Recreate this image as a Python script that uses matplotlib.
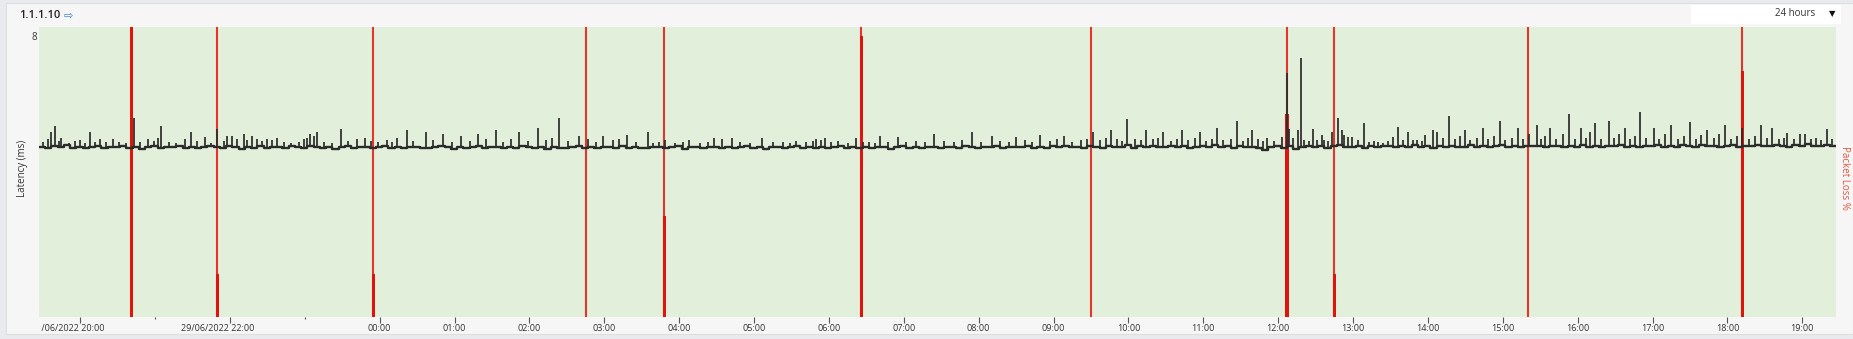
import numpy as np
import pandas as pd
import matplotlib
matplotlib.use("Agg")
import matplotlib.pyplot as plt
import matplotlib.dates as mdates
from matplotlib.transforms import ScaledTranslation, Bbox, TransformedBbox
from matplotlib.patches import Rectangle

plt.rcParams['font.family'] = ['Open Sans', 'DejaVu Sans']

# ---------------- data ----------------
host_name = "1.1.1.10"
range_label = "24 hours"
start_time = "2022-06-29 19:27"
end_time = "2022-06-30 19:27"
step_minutes = 5

# latency baseline (ms), one value per 5 minutes from start_time
latency_baseline = [
    4.70,4.66,4.72,4.68,4.74,4.67,4.70,4.65,4.69,4.72,4.66,4.70,
    4.68,4.73,4.67,4.70,4.64,4.69,4.71,4.66,4.70,4.68,4.72,4.67,
    4.69,4.65,4.70,4.73,4.68,4.66,4.71,4.69,4.64,4.70,4.67,4.72,
    4.66,4.70,4.68,4.65,4.71,4.69,4.67,4.72,4.68,4.66,4.70,4.64,
    4.69,4.71,4.66,4.68,4.70,4.65,4.69,4.72,4.67,4.70,4.66,4.68,
    4.70,4.67,4.65,4.69,4.71,4.68,4.64,4.70,4.67,4.69,4.72,4.66,
    4.68,4.70,4.66,4.69,4.65,4.71,4.68,4.67,4.70,4.64,4.69,4.67,
    4.66,4.69,4.71,4.67,4.68,4.65,4.70,4.68,4.66,4.71,4.67,4.69,
    4.67,4.65,4.69,4.70,4.66,4.68,4.71,4.64,4.68,4.70,4.66,4.69,
    4.70,4.66,4.68,4.65,4.69,4.71,4.67,4.69,4.64,4.68,4.70,4.67,
    4.68,4.71,4.66,4.69,4.67,4.70,4.65,4.68,4.71,4.66,4.69,4.67,
    4.69,4.66,4.70,4.68,4.64,4.69,4.72,4.67,4.69,4.66,4.70,4.68,
    4.67,4.70,4.68,4.65,4.71,4.69,4.66,4.70,4.68,4.72,4.67,4.69,
    4.70,4.68,4.72,4.67,4.70,4.66,4.71,4.69,4.73,4.68,4.70,4.67,
    4.71,4.69,4.66,4.72,4.68,4.70,4.74,4.67,4.71,4.69,4.73,4.68,
    4.70,4.73,4.68,4.71,4.66,4.70,4.72,4.68,4.74,4.69,4.71,4.67,
    4.72,4.68,4.70,4.65,4.62,4.69,4.73,4.67,4.71,4.64,4.70,4.72,
    4.69,4.73,4.67,4.71,4.74,4.68,4.70,4.72,4.66,4.71,4.69,4.73,
    4.71,4.68,4.72,4.70,4.74,4.69,4.71,4.67,4.73,4.70,4.72,4.68,
    4.70,4.74,4.69,4.72,4.68,4.71,4.75,4.70,4.72,4.69,4.73,4.71,
    4.72,4.69,4.73,4.71,4.68,4.72,4.70,4.74,4.69,4.72,4.70,4.73,
    4.71,4.74,4.70,4.72,4.69,4.73,4.71,4.75,4.70,4.72,4.69,4.74,
    4.72,4.70,4.74,4.71,4.73,4.69,4.72,4.75,4.70,4.73,4.71,4.74,
    4.73,4.71,4.75,4.72,4.70,4.74,4.72,4.76,4.71,4.73,4.75,4.72,
]

# latency spikes: (minutes after start_time, peak ms)
latency_spikes = [
    (3, 4.82), (7, 4.92), (10, 5.10), (13, 5.27), (16, 4.85), (18, 4.95), (24, 4.80),
    (29, 4.86), (33, 4.88), (37, 4.80), (41, 5.10), (45, 4.83), (49, 4.90), (54, 4.82),
    (59, 4.90), (64, 4.84), (70, 4.80), (76, 5.49), (81, 4.83), (87, 4.90), (92, 4.86),
    (95, 4.95), (98, 5.27), (104, 4.82), (110, 4.80), (117, 4.92), (122, 5.10), (127, 4.85),
    (133, 4.97), (138, 4.80), (143, 5.20), (148, 4.86), (151, 5.00), (155, 5.00), (159, 4.90),
    (164, 5.05), (167, 4.88), (171, 5.00), (175, 4.92), (179, 4.85), (183, 4.90), (187, 4.87),
    (191, 4.95), (196, 4.82), (202, 4.80), (208, 4.84), (212, 4.90), (215, 4.95), (217, 5.05),
    (220, 4.98), (223, 5.10), (228, 4.83), (235, 4.80), (242, 5.20), (248, 4.86), (255, 4.90),
    (261, 4.95), (266, 4.85), (272, 4.82), (279, 4.88), (283, 4.84), (287, 4.95),
    (295, 5.16), (300, 4.85), (310, 5.09), (316, 4.88), (324, 5.06), (331, 4.82), (338, 4.99),
    (345, 4.86), (352, 5.06), (358, 4.90), (366, 5.16), (372, 4.84), (378, 4.92), (385, 5.09),
    (392, 4.86), (400, 5.22), (406, 4.88), (411, 4.95), (417, 5.48), (424, 4.85), (433, 4.99),
    (440, 4.90), (446, 4.83), (452, 4.99), (460, 4.87), (465, 4.92), (471, 5.02), (478, 4.84),
    (488, 5.09), (492, 4.79), (497, 4.82), (502, 4.88), (510, 4.80), (516, 4.83), (521, 4.87),
    (530, 4.80), (536, 4.84), (541, 4.93), (547, 4.90), (555, 4.95), (562, 4.82), (570, 4.80),
    (579, 4.95), (588, 4.82), (596, 4.84), (602, 4.80), (607, 4.86), (615, 4.83), (620, 4.86),
    (623, 4.90), (627, 4.88), (630, 4.93), (635, 4.84), (640, 4.86), (648, 4.80), (655, 4.93),
    (660, 4.82), (665, 4.82), (670, 4.80),
    (674, 4.99), (680, 4.84), (688, 4.96), (695, 4.82), (703, 4.86), (710, 4.83), (717, 5.06),
    (725, 4.85), (733, 4.82), (740, 4.88), (748, 5.09), (755, 4.84), (764, 4.99), (770, 4.86),
    (777, 4.83), (783, 4.96), (790, 4.88), (796, 4.84), (802, 5.02), (810, 4.86), (816, 4.90),
    (821, 4.99), (828, 4.84), (835, 4.88), (840, 4.92),
    (845, 5.09), (850, 4.88), (855, 4.95), (859, 5.16), (864, 4.90), (868, 4.86), (872, 5.45),
    (878, 4.92), (883, 4.87), (887, 5.16), (893, 4.90), (897, 4.95), (901, 5.09), (907, 4.86),
    (912, 4.92), (916, 5.16), (921, 4.88), (926, 4.95), (930, 5.09), (935, 4.85), (940, 4.92),
    (944, 5.22), (949, 4.88), (955, 4.90), (960, 5.42), (965, 4.86), (969, 4.95), (972, 5.16),
    (977, 4.90), (981, 4.86),
    (984, 4.93), (990, 4.86), (996, 4.96), (1000, 6.72), (1002, 5.20), (1005, 4.93), (1009, 5.16),
    (1011, 7.14), (1014, 4.88), (1018, 4.85), (1021, 5.20), (1024, 4.88), (1028, 5.02), (1030, 4.88),
    (1033, 4.86), (1036, 5.09), (1041, 5.48), (1044, 5.16), (1046, 5.02), (1049, 4.97), (1052, 4.97),
    (1057, 4.88), (1062, 5.34), (1066, 4.84), (1070, 4.86), (1073, 4.84), (1077, 4.79), (1081, 4.86),
    (1085, 4.97), (1089, 5.23), (1093, 4.88), (1097, 5.11), (1101, 4.88), (1104, 4.88), (1108, 4.86),
    (1111, 5.02), (1117, 5.16), (1120, 5.11), (1125, 4.93), (1130, 5.54),
    (1135, 4.90), (1139, 5.00), (1143, 5.16), (1147, 4.88), (1152, 4.95), (1157, 5.22), (1161, 4.90),
    (1166, 5.00), (1171, 5.42), (1175, 4.88), (1180, 4.95), (1185, 5.22), (1189, 4.90), (1194, 5.05),
    (1200, 5.29), (1204, 4.90), (1207, 5.00), (1211, 5.22), (1216, 4.92), (1221, 5.05), (1226, 5.61),
    (1231, 4.90), (1236, 5.22), (1240, 4.95), (1243, 5.10), (1247, 5.35), (1252, 4.92), (1258, 5.42),
    (1262, 4.95), (1266, 5.05), (1271, 5.22), (1275, 4.90), (1279, 5.00), (1283, 5.65), (1288, 4.95),
    (1294, 5.22), (1298, 4.90), (1303, 5.05), (1308, 5.29), (1313, 4.92), (1318, 5.00), (1323, 5.38),
    (1328, 4.90), (1332, 5.02), (1337, 5.16), (1342, 4.95), (1346, 5.05), (1351, 5.29), (1356, 4.92),
    (1361, 5.00), (1365, 5.22), (1370, 4.90), (1375, 5.00), (1380, 5.29), (1385, 4.95), (1389, 5.22),
    (1394, 4.90), (1398, 4.95), (1401, 5.08), (1406, 4.90), (1411, 5.05), (1415, 5.05), (1420, 4.92),
    (1424, 4.95), (1428, 4.88), (1433, 5.19), (1437, 4.90),
]

# packet loss events
loss_times = ["2022-06-29 20:41", "2022-06-29 21:50", "2022-06-29 23:55",
              "2022-06-30 02:45", "2022-06-30 03:48", "2022-06-30 06:26",
              "2022-06-30 09:30", "2022-06-30 12:07", "2022-06-30 12:45",
              "2022-06-30 15:20", "2022-06-30 18:12"]
loss_percent = [100, 15, 15, 0, 35, 97, 0, 70, 15, 0, 85]

tick_times = ["2022-06-29 20:00", "2022-06-29 22:00", "2022-06-30 00:00",
              "2022-06-30 01:00", "2022-06-30 02:00", "2022-06-30 03:00",
              "2022-06-30 04:00", "2022-06-30 05:00", "2022-06-30 06:00",
              "2022-06-30 07:00", "2022-06-30 08:00", "2022-06-30 09:00",
              "2022-06-30 10:00", "2022-06-30 11:00", "2022-06-30 12:00",
              "2022-06-30 13:00", "2022-06-30 14:00", "2022-06-30 15:00",
              "2022-06-30 16:00", "2022-06-30 17:00", "2022-06-30 18:00",
              "2022-06-30 19:00"]
tick_labels = ["29/06/2022 20:00", "29/06/2022 22:00", "00:00", "01:00", "02:00",
               "03:00", "04:00", "05:00", "06:00", "07:00", "08:00", "09:00",
               "10:00", "11:00", "12:00", "13:00", "14:00", "15:00", "16:00",
               "17:00", "18:00", "19:00"]
minor_tick_times = ["2022-06-29 21:00", "2022-06-29 23:00"]

latency_max = 8
loss_max = 100

# ---------------- figure ----------------
W, H, DPI = 1853, 339, 100
fig = plt.figure(figsize=(W / DPI, H / DPI), dpi=DPI)
fig.patch.set_facecolor('#e8eaed')

def fx(px):
    return px / W

def fy(py):
    return 1 - py / H

# panel background
fig.patches.append(Rectangle((fx(6), fy(334)), fx(1853) - fx(6), fy(3) - fy(334),
                             transform=fig.transFigure, facecolor='#f6f6f6',
                             edgecolor='#dedede', lw=0.8, zorder=-5))

left, right, top, bottom = 39, 1836, 27, 317
rect = [fx(left), fy(bottom), fx(right) - fx(left), fy(top) - fy(bottom)]
ax2 = fig.add_axes(rect)
ax = fig.add_axes(rect, sharex=ax2)
ax2.set_zorder(1)
ax.set_zorder(2)
ax.patch.set_visible(False)
ax2.set_facecolor('#e2efda')

t0 = pd.Timestamp(start_time)
t1 = pd.Timestamp(end_time)

# packet loss (right scale)
loss_dt = pd.to_datetime(loss_times)
ax2.vlines(loss_dt, 0, loss_max, colors='#e3352a', lw=1.5, zorder=2)
bar_w = pd.Timedelta(minutes=2.6) / pd.Timedelta(days=1)
ax2.bar(loss_dt, loss_percent, width=bar_w, color='#e0140a', zorder=3, align='center')
ax2.set_ylim(0, loss_max)
ax2.set_yticks([])
for s in ax2.spines.values():
    s.set_visible(False)

# latency baseline
base = np.array(latency_baseline)
bt = t0 + pd.to_timedelta(np.arange(len(base)) * step_minutes, unit='min')
bx = list(bt) + [t1]
by = list(base) + [base[-1]]
ax.step(bx, by, where='post', color='#2b2b2b', lw=1.7, zorder=4)

# latency spikes
sp_min = np.array([p[0] for p in latency_spikes])
sp_val = np.array([p[1] for p in latency_spikes])
sp_t = t0 + pd.to_timedelta(sp_min, unit='min')
sp_base = base[np.minimum(sp_min // step_minutes, len(base) - 1).astype(int)]
ax.vlines(sp_t, sp_base, sp_val, colors='#2b2b2b', lw=1.25, zorder=4)

ax.set_ylim(0, latency_max)
ax.set_xlim(t0, t1)
ax.set_yticks([])
for s in ax.spines.values():
    s.set_visible(False)

# x ticks
ticks_dt = pd.to_datetime(tick_times)
ax.set_xticks(ticks_dt)
ax.set_xticklabels([''] * len(ticks_dt))
ax.set_xticks(pd.to_datetime(minor_tick_times), minor=True)
ax.tick_params(axis='x', which='major', direction='out', length=4.3, width=0.8,
               color='#555555', pad=0)
ax.tick_params(axis='x', which='minor', direction='out', length=1.5, width=0.8,
               color='#555555')
ax2.tick_params(axis='x', which='both', length=0, labelbottom=False)

xtr = ax.get_xaxis_transform()
clip = TransformedBbox(Bbox([[0.0012, -1], [1.2, 1]]), ax.transAxes)
for tdt, lab in zip(ticks_dt, tick_labels):
    dx = -12.5 / DPI if '/' in lab else 0
    tr = xtr + ScaledTranslation(dx, -7 / DPI, fig.dpi_scale_trans)
    txt = ax.text(tdt, 0, lab, transform=tr, ha='center', va='top',
                  fontsize=6.5, color='#333333')
    txt.set_clip_box(clip)
    txt.set_clip_on(True)

# y label "8"
ytr = ax.get_yaxis_transform() + ScaledTranslation(-1.5 / DPI, -4.5 / DPI, fig.dpi_scale_trans)
ax.text(0, latency_max, str(latency_max), transform=ytr, ha='right', va='top',
        fontsize=7, color='#333333')

fig.text(fx(23), fy(168), "Latency (ms)", rotation=90, ha='center', va='center',
         fontsize=7, color='#333333')
fig.text(fx(1845), fy(178), "Packet Loss %", rotation=270, ha='center', va='center',
         fontsize=7, color='#e4533d')

# title
fig.text(fx(19), fy(16), host_name, ha='left', va='center', fontsize=8,
         color='#222222', fontweight='semibold')
fig.text(fx(64), fy(16), "\u21e8", ha='left', va='center', fontsize=8,
         color='#3d7fd6', family=['DejaVu Sans'])

# range dropdown
fig.patches.append(Rectangle((fx(1691), fy(24)), fx(1841) - fx(1691), fy(5) - fy(24),
                             transform=fig.transFigure, facecolor='white',
                             edgecolor='none', zorder=-1))
fig.text(fx(1815), fy(13.5), range_label, ha='right', va='center', fontsize=7,
         color='#333333')
fig.text(fx(1832), fy(13.5), "\u25bc", ha='center', va='center', fontsize=6,
         color='#111111', family=['DejaVu Sans'])

fig.savefig("out.png", dpi=DPI, facecolor=fig.get_facecolor())
